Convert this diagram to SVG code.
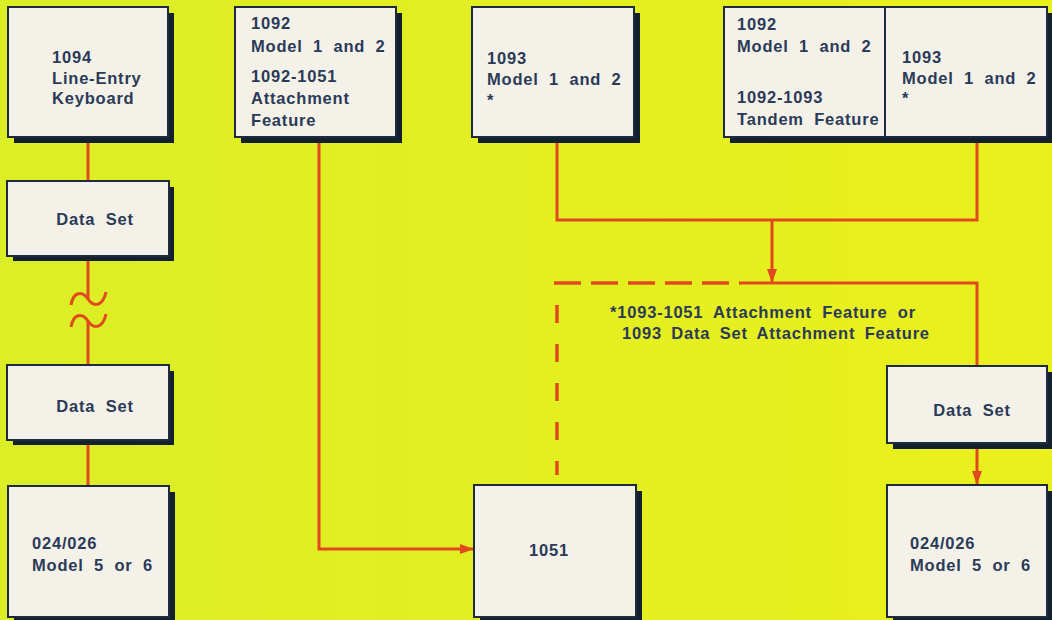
<svg xmlns="http://www.w3.org/2000/svg" width="1052" height="620" viewBox="0 0 1052 620">
<defs>
<linearGradient id="bg" x1="0" y1="0" x2="1" y2="0">
<stop offset="0" stop-color="#dcee26"/>
<stop offset="1" stop-color="#eaf01c"/>
</linearGradient>
<marker id="ah" viewBox="0 0 14 10" refX="14" refY="5" markerWidth="14" markerHeight="10" markerUnits="userSpaceOnUse" orient="auto">
<path d="M0,0 L14,5 L0,10 Z" fill="#e04a1e"/>
</marker>
<style>
.box{fill:#f4f2e8;stroke:#1e2b3e;stroke-width:2}
.sh{fill:#15202e}
.t{font-family:"Liberation Sans",Arial,sans-serif;font-weight:bold;font-size:16.5px;fill:#2b3a58;letter-spacing:0.8px;word-spacing:5px}
.ln{fill:none;stroke:#e04a1e;stroke-width:3}
.dash{fill:none;stroke:#e04a1e;stroke-width:3.5}
</style>
</defs>
<rect width="1052" height="620" fill="url(#bg)"/>

<g id="connectors">
<line class="ln" x1="88" y1="137" x2="88" y2="181"/>
<line class="ln" x1="88" y1="256" x2="88" y2="299"/>
<path class="ln" d="M71,305 C73,292 82,290 88,299 C94,308 103,306 106,292"/>
<path class="ln" d="M71,327 C73,314 82,312 88,321 C94,330 103,328 106,314"/>
<line class="ln" x1="88" y1="321" x2="88" y2="365"/>
<line class="ln" x1="88" y1="440" x2="88" y2="486"/>
<path class="ln" d="M319,137 L319,549 L474,549" marker-end="url(#ah)"/>
<path class="ln" d="M557,137 L557,220 L977,220 L977,137"/>
<line class="ln" x1="772" y1="220" x2="772" y2="283" marker-end="url(#ah)"/>
<line class="dash" x1="554" y1="283" x2="740" y2="283" stroke-dasharray="27 10"/>
<path class="ln" d="M740,283 L977,283 L977,366"/>
<line class="dash" x1="557" y1="305" x2="557" y2="475" stroke-dasharray="18 21"/>
<line class="ln" x1="977" y1="443" x2="977" y2="485" marker-end="url(#ah)"/>
</g>

<g id="n1094">
<rect class="sh" x="14" y="13" width="160" height="130"/>
<rect class="box" x="8" y="7" width="160" height="130"/>
<text class="t" x="52" y="63">1094</text>
<text class="t" x="52" y="84">Line-Entry</text>
<text class="t" x="52" y="104">Keyboard</text>
</g>

<g id="n1092">
<rect class="sh" x="241" y="13" width="161" height="130"/>
<rect class="box" x="235" y="7" width="161" height="130"/>
<text class="t" x="251" y="29">1092</text>
<text class="t" x="251" y="52">Model 1 and 2</text>
<text class="t" x="251" y="82">1092-1051</text>
<text class="t" x="251" y="104">Attachment</text>
<text class="t" x="251" y="126">Feature</text>
</g>

<g id="n1093">
<rect class="sh" x="478" y="13" width="162" height="130"/>
<rect class="box" x="472" y="7" width="162" height="130"/>
<text class="t" x="487" y="64">1093</text>
<text class="t" x="487" y="85">Model 1 and 2</text>
<text class="t" x="487" y="106">*</text>
</g>

<g id="n1092-1093">
<rect class="sh" x="730" y="13" width="323" height="130"/>
<rect class="box" x="724" y="7" width="323" height="130"/>
<line x1="885" y1="7" x2="885" y2="137" stroke="#1e2b3e" stroke-width="2"/>
<text class="t" x="737" y="30">1092</text>
<text class="t" x="737" y="52">Model 1 and 2</text>
<text class="t" x="737" y="103">1092-1093</text>
<text class="t" x="737" y="125">Tandem Feature</text>
<text class="t" x="902" y="63">1093</text>
<text class="t" x="902" y="84">Model 1 and 2</text>
<text class="t" x="902" y="104">*</text>
</g>

<g id="dataset1">
<rect class="sh" x="13" y="187" width="161" height="74"/>
<rect class="box" x="7" y="181" width="162" height="75"/>
<text class="t" x="95" y="225" text-anchor="middle">Data Set</text>
</g>

<g id="dataset2">
<rect class="sh" x="13" y="371" width="161" height="74"/>
<rect class="box" x="7" y="365" width="162" height="75"/>
<text class="t" x="95" y="412" text-anchor="middle">Data Set</text>
</g>

<g id="n024left">
<rect class="sh" x="14" y="492" width="161" height="131"/>
<rect class="box" x="8" y="486" width="161" height="131"/>
<text class="t" x="32" y="549">024/026</text>
<text class="t" x="32" y="571">Model 5 or 6</text>
</g>

<g id="n1051">
<rect class="sh" x="480" y="491" width="162" height="131"/>
<rect class="box" x="474" y="485" width="162" height="132"/>
<text class="t" x="549" y="556" text-anchor="middle">1051</text>
</g>

<g id="dataset3">
<rect class="sh" x="893" y="372" width="160" height="77"/>
<rect class="box" x="887" y="366" width="160" height="77"/>
<text class="t" x="972" y="416" text-anchor="middle">Data Set</text>
</g>

<g id="n024right">
<rect class="sh" x="893" y="491" width="160" height="131"/>
<rect class="box" x="887" y="485" width="160" height="132"/>
<text class="t" x="910" y="549">024/026</text>
<text class="t" x="910" y="571">Model 5 or 6</text>
</g>

<g id="footnote">
<text class="t" x="610" y="318" style="word-spacing:5px">*1093-1051 Attachment Feature or</text>
<text class="t" x="622" y="339" style="word-spacing:4px">1093 Data Set Attachment Feature</text>
</g>
</svg>
